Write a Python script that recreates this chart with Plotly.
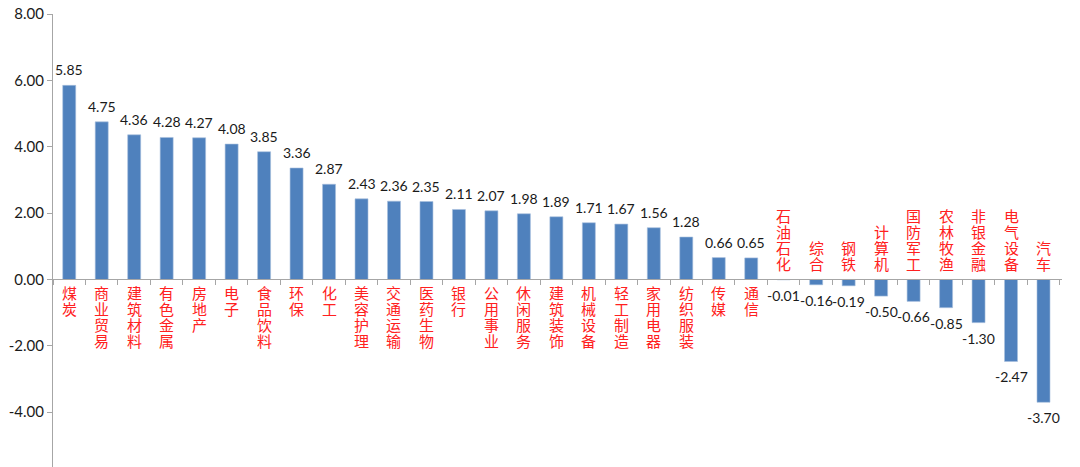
import plotly.graph_objects as go

categories = ["煤炭", "商业贸易", "建筑材料", "有色金属", "房地产", "电子", "食品饮料", "环保", "化工",
              "美容护理", "交通运输", "医药生物", "银行", "公用事业", "休闲服务", "建筑装饰", "机械设备",
              "轻工制造", "家用电器", "纺织服装", "传媒", "通信", "石油石化", "综合", "钢铁", "计算机",
              "国防军工", "农林牧渔", "非银金融", "电气设备", "汽车"]
values = [5.85, 4.75, 4.36, 4.28, 4.27, 4.08, 3.85, 3.36, 2.87, 2.43, 2.36, 2.35, 2.11, 2.07, 1.98,
          1.89, 1.71, 1.67, 1.56, 1.28, 0.66, 0.65, -0.01, -0.16, -0.19, -0.50, -0.66, -0.85, -1.30,
          -2.47, -3.70]
y_ticks = [8, 6, 4, 2, 0, -2, -4]

ymin, ymax = -5.65, 8.0
PITCH = 16

fig = go.Figure()
fig.add_trace(go.Bar(
    x=categories, y=values,
    marker=dict(color="#4F81BD", line=dict(color="#A7BFDE", width=0.6)),
))

for c, v in zip(categories, values):
    # value label
    fig.add_annotation(
        x=c, y=v, text=f"{v:.2f}", showarrow=False,
        yanchor="bottom" if v >= 0 else "top",
        yshift=5 if v >= 0 else -5,
        font=dict(family="Lato, Open Sans, sans-serif", size=14, color="#1a1a1a"),
    )
    # category label, one character per line
    n = len(c)
    for k, ch in enumerate(c):
        if v >= 0:
            ys, ya = -2 - k * PITCH, "top"
        else:
            ys, ya = 4 + (n - 1 - k) * PITCH, "bottom"
        fig.add_annotation(
            x=c, y=0, text=ch, showarrow=False, yanchor=ya, yshift=ys,
            borderpad=0,
            font=dict(family="Noto Sans CJK SC", size=15, color="#FF2020"),
        )

zero_pos = (0 - ymin) / (ymax - ymin)
fig.update_layout(
    width=1080, height=467,
    margin=dict(l=53, r=18, t=14, b=0),
    plot_bgcolor="white", paper_bgcolor="white",
    bargap=0.6, showlegend=False,
    xaxis=dict(showticklabels=False, showline=True, linecolor="#a6a6a6", linewidth=1,
               ticks="outside", tickson="boundaries", ticklen=5, tickcolor="#a6a6a6",
               anchor="free", position=zero_pos, showgrid=False, zeroline=False),
    yaxis=dict(range=[ymin, ymax], tickvals=y_ticks, ticktext=[f"{t:.2f}" for t in y_ticks],
               showline=True, linecolor="#a6a6a6", linewidth=1, ticks="outside", ticklen=5,
               tickcolor="#a6a6a6", showgrid=False, zeroline=False,
               tickfont=dict(family="Lato, Open Sans, sans-serif", size=15, color="#1a1a1a")),
)
fig.write_html("out.html")
